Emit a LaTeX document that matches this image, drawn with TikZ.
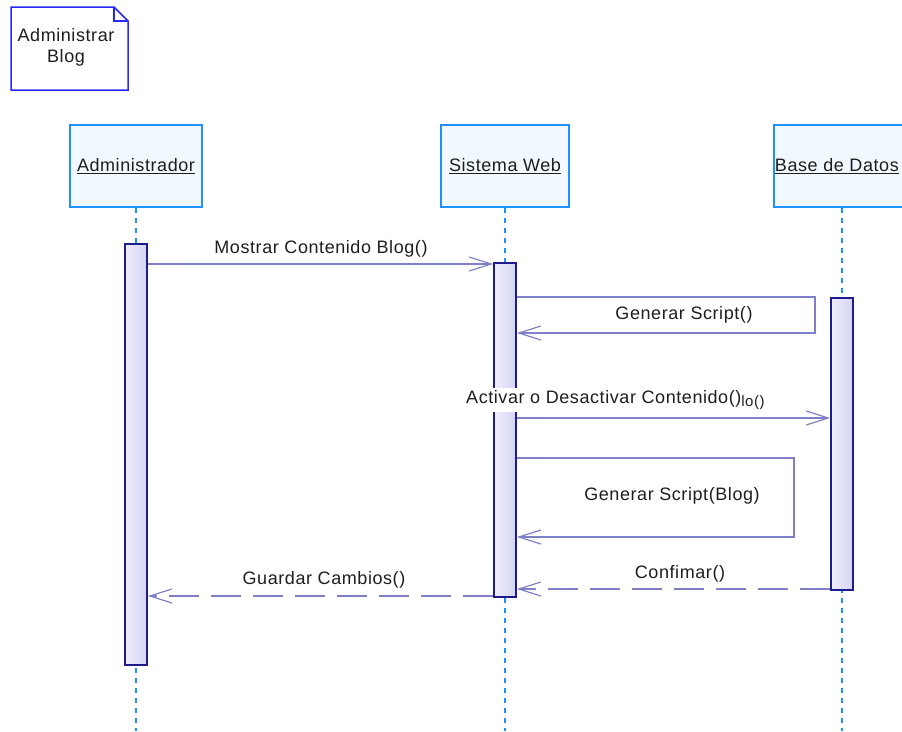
\documentclass[tikz,border=0pt]{standalone}
\usepackage{fontspec}
\setmainfont[LetterSpace=3.2]{Liberation Sans}
\usetikzlibrary{arrows.meta}
\definecolor{noteblue}{RGB}{40,40,245}
\definecolor{headblue}{RGB}{30,144,255}
\definecolor{headfill}{RGB}{241,248,254}
\definecolor{barline}{RGB}{28,28,140}
\definecolor{barlight}{RGB}{238,238,252}
\definecolor{bardark}{RGB}{212,212,245}
\definecolor{msg}{RGB}{128,128,198}
\definecolor{txt}{RGB}{30,30,30}
\tikzset{
  head/.style={draw=headblue, line width=1.4pt, fill=headfill, minimum width=132pt,
    minimum height=82pt, text=txt, inner sep=0pt},
  actbar/.style={draw=barline, line width=1.7pt, left color=barlight, right color=bardark,
    minimum width=22pt, inner sep=0pt, anchor=north},
  lifeline/.style={headblue, line width=1.3pt, dash pattern=on 5pt off 5pt},
  call/.style={msg, line width=1.2pt, -{Straight Barb[length=22pt,width=14pt]}},
  reply/.style={call, dash pattern=on 30pt off 12pt},
  msglabel/.style={text=txt, inner sep=1pt}
}
\begin{document}
\begin{tikzpicture}[x=1pt, y=-1pt, font=\fontsize{18}{21}\selectfont]
\useasboundingbox (0,0) rectangle (902,731);
\clip (0,0) rectangle (902,731);

% note with folded corner
\draw[noteblue, line width=1.5pt, fill=white]
  (11,7) -- (114,7) -- (128,21) -- (128,90) -- (11,90) -- cycle;
\draw[noteblue, line width=1.5pt] (114,7) -- (114,21) -- (128,21);
\node[text=txt, align=center, inner sep=0pt] (note) at (66,47) {Administrar\\Blog};

% lifeline heads
\node[head] (adm) at (136,166) {\underline{Administrador}};
\node[head, minimum width=128pt] (web) at (505,166) {\underline{Sistema Web}};
\node[head, minimum width=136pt] (db) at (842,166) {};
\node[text=txt, inner sep=0pt, anchor=east] (dbname) at (899,166) {\underline{Base de Datos}};

% lifelines
\draw[lifeline] (adm.south) -- (adm.south |- 0,731);
\draw[lifeline] (web.south) -- (web.south |- 0,731);
\draw[lifeline] (db.south) -- (db.south |- 0,731);

% activation bars
\node[actbar, minimum height=421pt] (admbar) at (136,243) {};
\node[actbar, minimum height=334pt] (webbar) at (505,262) {};
\node[actbar, minimum height=292pt] (dbbar) at (842,297) {};

% messages
\draw[call] (admbar.east |- 0,264) -- (webbar.west |- 0,264);
\node[msglabel] (m1) at (321,249) {Mostrar Contenido Blog()};

\draw[call] (webbar.east |- 0,297) -- (815,297) -- (815,333) -- (webbar.east |- 0,333);
\node[msglabel] (m2) at (684,315) {Generar Script()};

\draw[call] (webbar.east |- 0,418) -- (dbbar.west |- 0,418);
\node[msglabel, fill=white, anchor=west, inner sep=2pt] (m3) at (464,400)
  {Activar o Desactivar Contenido()\raisebox{-3.5pt}{\fontsize{15}{15}\selectfont lo()}};

\draw[call] (webbar.east |- 0,458) -- (794,458) -- (794,537) -- (webbar.east |- 0,537);
\node[msglabel] (m4) at (672,496) {Generar Script(Blog)};

\draw[reply] (dbbar.west |- 0,589) -- (webbar.east |- 0,589);
\node[msglabel] (m5) at (680,574) {Confimar()};

\draw[reply] (webbar.west |- 0,596) -- (admbar.east |- 0,596);
\node[msglabel] (m6) at (324,580) {Guardar Cambios()};
\end{tikzpicture}
\end{document}
